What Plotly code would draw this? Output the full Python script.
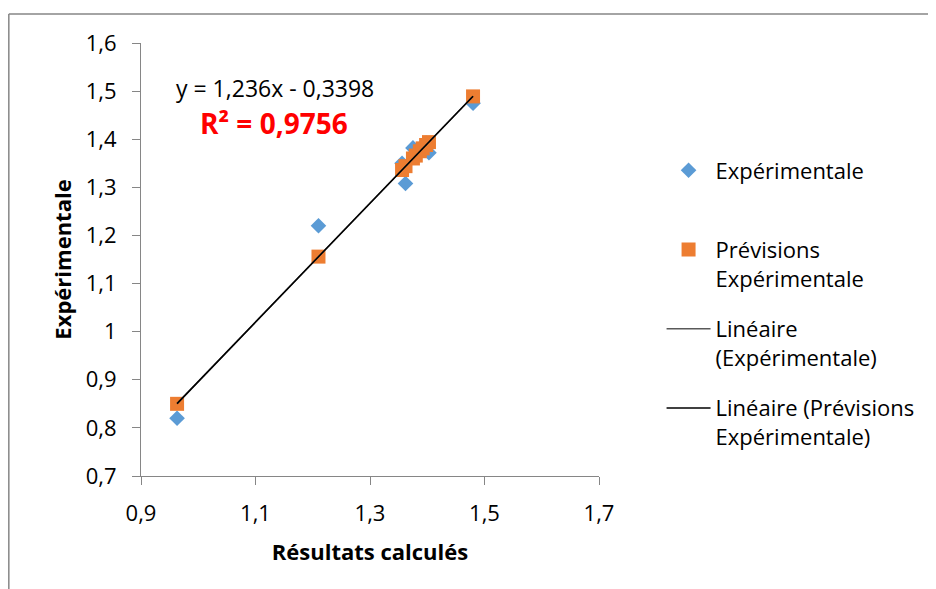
import plotly.graph_objects as go
import numpy as np

# Data
calc_x = [0.963, 1.210, 1.356, 1.362, 1.375, 1.380, 1.387, 1.392, 1.398, 1.403, 1.480]
exp_y = [0.820, 1.220, 1.350, 1.308, 1.382, 1.372, 1.376, 1.382, 1.392, 1.372, 1.475]
prev_y = [0.850, 1.156, 1.336, 1.344, 1.360, 1.366, 1.375, 1.381, 1.388, 1.394, 1.489]

trend_slope = 1.236
trend_intercept = -0.3398
r_squared = "0,9756"

x_tickvals = [0.9, 1.1, 1.3, 1.5, 1.7]
x_ticktext = ["0,9", "1,1", "1,3", "1,5", "1,7"]
y_tickvals = [0.7, 0.8, 0.9, 1.0, 1.1, 1.2, 1.3, 1.4, 1.5, 1.6]
y_ticktext = ["0,7", "0,8", "0,9", "1", "1,1", "1,2", "1,3", "1,4", "1,5", "1,6"]

FONT = "Open Sans"
AXIS_GREY = "#868686"

xs = np.array(calc_x)
line_x = np.array([xs.min(), xs.max()])
line_y = trend_slope * line_x + trend_intercept

fig = go.Figure()
fig.add_trace(go.Scatter(
    x=calc_x, y=exp_y, mode="markers", name="Expérimentale<br> ",
    legendgroup="a",
    marker=dict(symbol="diamond", size=12, color="#5B9BD5", line=dict(width=0)),
))
fig.add_trace(go.Scatter(
    x=calc_x, y=prev_y, mode="markers", name="Prévisions<br>Expérimentale",
    legendgroup="b",
    marker=dict(symbol="square", size=14, color="#ED7D31", line=dict(width=0)),
))
fig.add_trace(go.Scatter(
    x=line_x, y=line_y, mode="lines", name="Linéaire<br>(Expérimentale)",
    legendgroup="c",
    line=dict(color="#595959", width=1.5),
))
fig.add_trace(go.Scatter(
    x=line_x, y=line_y, mode="lines", name="Linéaire (Prévisions<br>Expérimentale)",
    legendgroup="d",
    line=dict(color="#000000", width=1.5),
))

fig.add_annotation(
    xref="paper", yref="paper", x=0.2926, y=0.896, xanchor="center", yanchor="middle",
    text="y = 1,236x - 0,3398", showarrow=False,
    font=dict(family=FONT, size=23, color="#000000"),
)
fig.add_annotation(
    xref="paper", yref="paper", x=0.2905, y=0.815, xanchor="center", yanchor="middle",
    text="<b>R² = " + r_squared + "</b>", showarrow=False,
    font=dict(family=FONT, size=28, color="#FF0000"),
)

# outer chart frame
fig.add_shape(type="line", xref="paper", yref="paper",
              x0=-0.2886, x1=-0.2886, y0=-0.5, y1=1.067,
              line=dict(color=AXIS_GREY, width=1.5))
fig.add_shape(type="line", xref="paper", yref="paper",
              x0=-0.2886, x1=1.8, y0=1.067, y1=1.067,
              line=dict(color=AXIS_GREY, width=1.5))

fig.update_layout(
    width=928, height=581,
    margin=dict(l=133, r=337, t=35, b=113),
    paper_bgcolor="white", plot_bgcolor="white",
    font=dict(family=FONT, size=22, color="#000000"),
    showlegend=True,
    legend=dict(
        x=1.1366, y=0.754, xanchor="left", yanchor="top",
        font=dict(family=FONT, size=22, color="#000000"),
        traceorder="grouped", tracegroupgap=19, valign="top",
        itemwidth=44,
        bgcolor="rgba(0,0,0,0)",
    ),
    xaxis=dict(
        range=[0.9, 1.7], tickvals=x_tickvals, ticktext=x_ticktext,
        showgrid=False, zeroline=False, showline=True, linecolor=AXIS_GREY, linewidth=1,
        ticks="outside", ticklen=8, tickcolor=AXIS_GREY, ticklabelstandoff=10,
        tickfont=dict(family=FONT, size=22, color="#000000"),
        title=dict(text="<b>Résultats calculés</b>", standoff=18,
                   font=dict(family=FONT, size=22, color="#000000")),
    ),
    yaxis=dict(
        range=[0.7, 1.6], tickvals=y_tickvals, ticktext=y_ticktext,
        showgrid=False, zeroline=False, showline=True, linecolor=AXIS_GREY, linewidth=1,
        ticks="outside", ticklen=8, tickcolor=AXIS_GREY, ticklabelstandoff=11,
        tickfont=dict(family=FONT, size=22, color="#000000"),
        title=dict(text="<b>Expérimentale</b>", standoff=8,
                   font=dict(family=FONT, size=22, color="#000000")),
    ),
)

fig.write_html("out.html")
